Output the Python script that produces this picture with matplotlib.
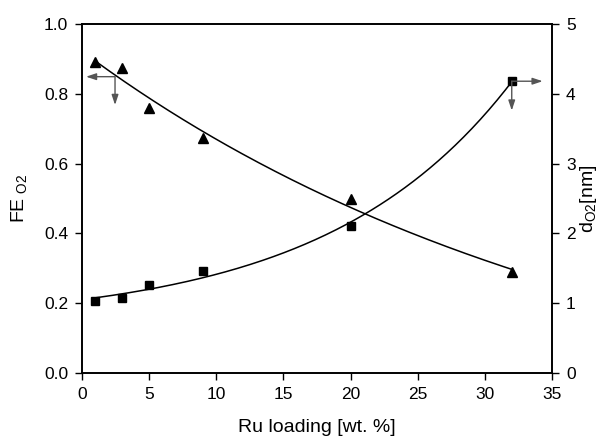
import numpy as np
import matplotlib
matplotlib.use('Agg')
import matplotlib.pyplot as plt

plt.rcParams['font.family'] = ['Liberation Sans', 'DejaVu Sans']

# Ru loading (wt. %)
ru_loading = [1, 3, 5, 9, 20, 32]
# Faradaic efficiency for O2 (left axis)
fe_o2 = [0.891, 0.874, 0.759, 0.673, 0.499, 0.288]
# O2 diffusion length in nm (right axis)
d_o2 = [1.03, 1.07, 1.26, 1.46, 2.11, 4.18]


def exp_fit(x, y):
    # y = a + b*exp(c*x), scan c and solve a, b by least squares
    x = np.asarray(x, float)
    y = np.asarray(y, float)
    best = None
    for c in np.linspace(-0.3, 0.3, 1201):
        if abs(c) < 1e-6:
            continue
        A = np.column_stack([np.ones_like(x), np.exp(c * x)])
        coef, *_ = np.linalg.lstsq(A, y, rcond=None)
        err = np.sum((A @ coef - y) ** 2)
        if best is None or err < best[0]:
            best = (err, coef[0], coef[1], c)
    _, a, b, c = best
    return lambda t: a + b * np.exp(c * t)


fig = plt.figure(figsize=(6.02, 4.36), dpi=100)
ax = fig.add_axes([0.1362, 0.1445, 0.7808, 0.8005])
ax2 = ax.twinx()

xs = np.linspace(1, 32, 200)
f_fe = exp_fit(ru_loading, fe_o2)
f_d = exp_fit(ru_loading, d_o2)

ax.plot(xs, f_fe(xs), color='black', lw=1.1)
ax.plot(ru_loading, fe_o2, '^', color='black', ms=7)
ax2.plot(xs, f_d(xs), color='black', lw=1.1)
ax2.plot(ru_loading, d_o2, 's', color='black', ms=5.5)

# arrows pointing to the respective axes
arrow = dict(arrowstyle='-|>,head_length=0.6,head_width=0.2', color='#555555',
             lw=1, mutation_scale=10, shrinkA=0, shrinkB=0)
ax.annotate('', xy=(0.3, 0.849), xytext=(2.46, 0.849), arrowprops=arrow)
ax.annotate('', xy=(2.46, 0.768), xytext=(2.46, 0.849), arrowprops=arrow)
ax2.annotate('', xy=(34.3, d_o2[-1]), xytext=(32, d_o2[-1]), arrowprops=arrow)
ax2.annotate('', xy=(32, 3.76), xytext=(32, d_o2[-1]), arrowprops=arrow)

ax.set_xlim(0, 35)
ax.set_ylim(0, 1.0)
ax2.set_ylim(0, 5)
ax.set_xticks(np.arange(0, 36, 5))
ax.set_yticks(np.arange(0, 1.01, 0.2))
ax.set_yticklabels(['0.0', '0.2', '0.4', '0.6', '0.8', '1.0'])
ax2.set_yticks(range(0, 6))

for a in (ax, ax2):
    a.tick_params(direction='out', length=5, width=1, labelsize=12.5, pad=5)
    for s in a.spines.values():
        s.set_linewidth(1.2)

ax.set_xlabel('Ru loading [wt. %]', fontsize=14, labelpad=12)
ax.set_ylabel(r'FE$_{\ \mathregular{O2}}$', fontsize=14, labelpad=10)
ax2.set_ylabel(r'd$_{\mathregular{O2}}$[nm]', fontsize=14, labelpad=2)

fig.savefig('out.png', dpi=100)
